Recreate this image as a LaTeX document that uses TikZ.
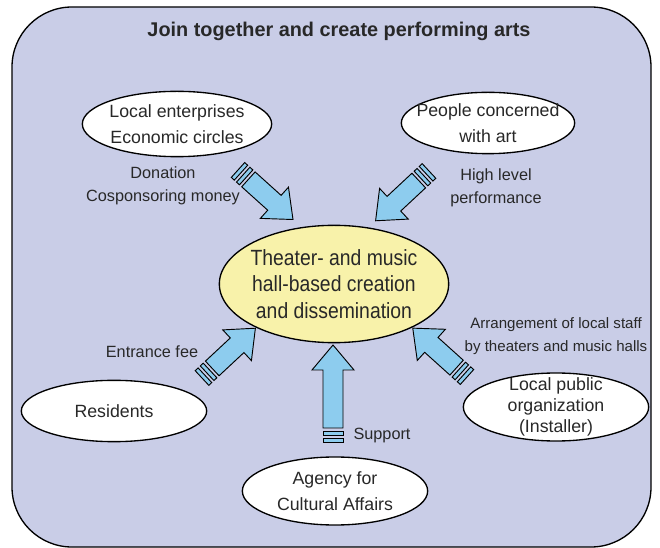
\documentclass[tikz,border=0pt]{standalone}
\usepackage{fontspec}
\setmainfont{Liberation Sans}
\newfontfamily\narrowfont[FakeStretch=0.88]{Liberation Sans}
\usetikzlibrary{shapes.geometric}
\usetikzlibrary{positioning}

\definecolor{panel}{RGB}{201,205,231}
\definecolor{hubfill}{RGB}{248,242,170}
\definecolor{arrowfill}{RGB}{141,204,238}
\definecolor{ink}{RGB}{40,40,40}

\tikzset{
    bigarrow/.pic={
        \filldraw[arr] (14,-10) -- ({#1-25},-10) -- ({#1-25},-21) -- (#1,0)
            -- ({#1-25},21) -- ({#1-25},10) -- (14,10) -- cycle;
        \filldraw[arr] (0,-10) rectangle (4,10);
        \filldraw[arr] (7,-10) rectangle (11,10);
    }
}

\begin{document}
\begin{tikzpicture}[
    x = 0.75pt, y = -0.75pt,
    every node/.style = {text=ink},
    arr/.style = {fill=arrowfill, draw=black, line width=0.7pt},
    party/.style = {ellipse, draw, fill=white, line width=1pt,
        inner sep=-20pt, align=center,
        font=\fontsize{13.3}{19.5}\selectfont},
    lbl/.style = {align=center, font=\fontsize{12.2}{17.5}\selectfont}
    ]
    \useasboundingbox (0,0) rectangle (660,548);
    \draw[fill=panel, line width=1pt, rounded corners=45pt] (12,7) rectangle (651,547);
    %
    \node (Title) [font=\bfseries\fontsize{14.9}{18}\selectfont] at (339,31)
        {Join together and create performing arts};
    %
    \node (Hub) [party, fill=hubfill, minimum width=172pt, minimum height=88pt,
        font=\narrowfont\fontsize{16.5}{20}\selectfont] at (334,284)
        {Theater- and music\\hall-based creation\\and dissemination};
    \node (Firms) [party, minimum width=142pt, minimum height=49pt] at (177,124)
        {Local enterprises\\Economic circles};
    \node (Artists) [party, minimum width=130pt, minimum height=46pt] at (488,123)
        {People concerned\\with art};
    \node (Residents) [party, minimum width=139pt, minimum height=46pt] at (114,411)
        {Residents};
    \node (Installer) [party, minimum width=139pt, minimum height=51pt,
        font=\fontsize{13.3}{15.5}\selectfont] at (556,407)
        {Local public\\organization\\(Installer)};
    \node (Agency) [party, minimum width=139pt, minimum height=51pt] at (335,491)
        {Agency for\\Cultural Affairs};
    %
    \node (DonLbl) [lbl] at (163,186) {Donation\\Cosponsoring money};
    \node (ArtLbl) [lbl] at (496,188) {High level\\performance};
    \node (FeeLbl) [lbl] at (152,352) {Entrance fee};
    \node (SupLbl) [lbl] at (382,436) {Support};
    \node (StaffLbl) [lbl, font=\fontsize{11.3}{17.5}\selectfont] at (556,336)
        {Arrangement of local staff\\by theaters and music halls};
    %
    \coordinate (FirmsTail) at (238,170);
    \coordinate (ArtistsTail) at (429,171);
    \coordinate (ResidentsTail) at (202,378);
    \coordinate (InstallerTail) at (467,377);
    \coordinate (AgencyTail) at (333,442);
    \pic[rotate=-42] at (FirmsTail) {bigarrow=74};
    \pic[rotate=-137] at (ArtistsTail) {bigarrow=73};
    \pic[rotate=43] at (ResidentsTail) {bigarrow=73};
    \pic[rotate=138] at (InstallerTail) {bigarrow=73};
    \pic[rotate=90] at (AgencyTail) {bigarrow=97};
\end{tikzpicture}
\end{document}
